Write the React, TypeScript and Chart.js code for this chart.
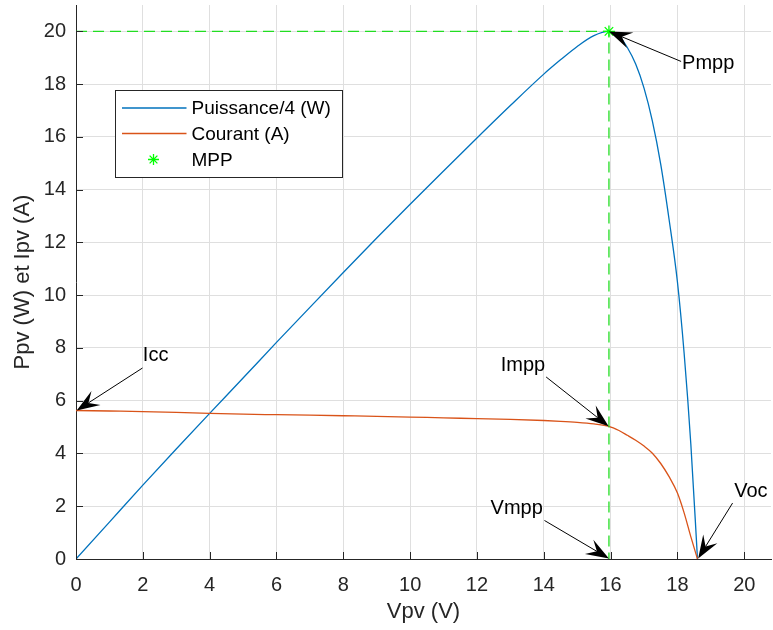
import React, { useEffect, useRef } from 'react';
import { Chart, registerables } from 'chart.js';

Chart.register(...registerables);

// ---- Data ----
const voltage = [0, 1, 2, 3, 4, 5, 6, 7, 8, 9, 10, 11, 12, 13, 14, 14.5, 15, 15.5, 15.95, 16.25, 16.5, 16.75, 17, 17.25, 17.5, 17.75, 18, 18.2, 18.4, 18.6];
const currentA = [5.63, 5.61, 5.59, 5.56, 5.52, 5.49, 5.47, 5.45, 5.43, 5.41, 5.38, 5.35, 5.32, 5.29, 5.25, 5.22, 5.18, 5.12, 5.03, 4.87, 4.69, 4.50, 4.28, 4.01, 3.62, 3.12, 2.50, 1.75, 0.85, 0];
const powerQuarter = [0, 1.40, 2.80, 4.17, 5.52, 6.86, 8.21, 9.54, 10.86, 12.17, 13.45, 14.71, 15.96, 17.19, 18.38, 18.92, 19.43, 19.84, 20.0, 19.83, 19.39, 18.76, 17.85, 16.6, 14.96, 12.87, 10.5, 7.8, 4.37, 0];

const mppVoltage = 15.95;
const mppPowerQuarter = 20;

const xTicks = [0, 2, 4, 6, 8, 10, 12, 14, 16, 18, 20];
const yTicks = [0, 2, 4, 6, 8, 10, 12, 14, 16, 18, 20];
const xMax = 20.8;
const yMax = 21;

const legendLabels = ['Puissance/4 (W)', 'Courant (A)', 'MPP'];

// annotation arrows: tip, tail, text anchor (data coordinates)
const annotations = [
  { label: 'Pmpp', tip: [15.95, 20], tail: [18.11, 18.86], text: [18.14, 18.8], align: 'left' },
  { label: 'Icc', tip: [0.02, 5.63], tail: [1.99, 7.24], text: [2.0, 7.71], align: 'left' },
  { label: 'Impp', tip: [15.94, 5.03], tail: [14.07, 6.9], text: [14.04, 7.33], align: 'right' },
  { label: 'Vmpp', tip: [15.95, 0.02], tail: [14.02, 1.46], text: [13.97, 1.93], align: 'right' },
  { label: 'Voc', tip: [18.62, 0.02], tail: [19.65, 2.12], text: [19.7, 2.56], align: 'left' },
];

const BLUE = '#0072BD';
const ORANGE = '#D95319';
const GREEN = '#00FF00';
const DASH_GREEN = '#22dd22';
const AXIS = '#262626';
const FONT = "'Liberation Sans', Arial, Helvetica, sans-serif";

function drawAsterisk(ctx: CanvasRenderingContext2D, cx: number, cy: number, r: number, color: string) {
  ctx.save();
  ctx.strokeStyle = color;
  ctx.lineWidth = 1.3;
  ctx.beginPath();
  for (let k = 0; k < 4; k++) {
    const a = (k * Math.PI) / 4;
    ctx.moveTo(cx - r * Math.cos(a), cy - r * Math.sin(a));
    ctx.lineTo(cx + r * Math.cos(a), cy + r * Math.sin(a));
  }
  ctx.stroke();
  ctx.restore();
}

const overlayPlugin = {
  id: 'overlay',
  afterDatasetsDraw(chart: any) {
    const { ctx, chartArea } = chart;
    const xs = chart.scales.x;
    const ys = chart.scales.y;
    ctx.save();

    // inward tick marks
    ctx.strokeStyle = AXIS;
    ctx.lineWidth = 1;
    xTicks.forEach((v) => {
      const px = Math.round(xs.getPixelForValue(v)) + 0.5;
      ctx.beginPath();
      ctx.moveTo(px, chartArea.bottom);
      ctx.lineTo(px, chartArea.bottom - 7);
      ctx.stroke();
    });
    yTicks.forEach((v) => {
      const py = Math.round(ys.getPixelForValue(v)) + 0.5;
      ctx.beginPath();
      ctx.moveTo(chartArea.left, py);
      ctx.lineTo(chartArea.left + 7, py);
      ctx.stroke();
    });

    // annotation arrows
    ctx.font = `20px ${FONT}`;
    ctx.fillStyle = '#000';
    ctx.strokeStyle = '#000';
    annotations.forEach((a) => {
      const tx = xs.getPixelForValue(a.tip[0]);
      const ty = ys.getPixelForValue(a.tip[1]);
      const sx = xs.getPixelForValue(a.tail[0]);
      const sy = ys.getPixelForValue(a.tail[1]);
      const ang = Math.atan2(ty - sy, tx - sx);
      const L = 23;
      const H = 8.3;
      const N = 14;
      const ux = Math.cos(ang);
      const uy = Math.sin(ang);
      const nx = tx - ux * N;
      const ny = ty - uy * N;
      ctx.lineWidth = 1;
      ctx.beginPath();
      ctx.moveTo(sx, sy);
      ctx.lineTo(nx, ny);
      ctx.stroke();
      ctx.beginPath();
      ctx.moveTo(tx, ty);
      ctx.lineTo(tx - ux * L - uy * H, ty - uy * L + ux * H);
      ctx.lineTo(nx, ny);
      ctx.lineTo(tx - ux * L + uy * H, ty - uy * L - ux * H);
      ctx.closePath();
      ctx.fill();

      ctx.textAlign = a.align as CanvasTextAlign;
      ctx.textBaseline = 'middle';
      ctx.fillText(a.label, xs.getPixelForValue(a.text[0]), ys.getPixelForValue(a.text[1]));
    });

    // legend box
    const lx = chartArea.left + 39.5;
    const ly = chartArea.top + 85.5;
    const lw = 227;
    const lh = 87;
    ctx.fillStyle = '#ffffff';
    ctx.fillRect(lx, ly, lw, lh);
    ctx.strokeStyle = AXIS;
    ctx.lineWidth = 1;
    ctx.strokeRect(lx, ly, lw, lh);
    const rows = [ly + 17.5, ly + 43, ly + 69];
    const colors = [BLUE, ORANGE];
    ctx.font = `19px ${FONT}`;
    ctx.textAlign = 'left';
    ctx.textBaseline = 'middle';
    legendLabels.forEach((lab, i) => {
      if (i < 2) {
        ctx.strokeStyle = colors[i];
        ctx.lineWidth = 1.3;
        ctx.beginPath();
        ctx.moveTo(lx + 6.5, rows[i]);
        ctx.lineTo(lx + 71, rows[i]);
        ctx.stroke();
      } else {
        drawAsterisk(ctx, lx + 38, rows[i], 5.5, GREEN);
      }
      ctx.fillStyle = '#000';
      ctx.fillText(lab, lx + 76, rows[i] + 1);
    });

    ctx.restore();
  },
};

export default function App() {
  const ref = useRef<HTMLCanvasElement | null>(null);

  useEffect(() => {
    if (!ref.current) return;
    const pts = (ys: number[]) => voltage.map((v, i) => ({ x: v, y: ys[i] }));
    const chart = new Chart(ref.current, {
      type: 'line',
      data: {
        datasets: [
          {
            label: 'MPP',
            data: [{ x: mppVoltage, y: mppPowerQuarter }],
            showLine: false,
            pointStyle: 'star',
            pointRadius: 6,
            pointHoverRadius: 6,
            pointBorderColor: GREEN,
            pointBackgroundColor: GREEN,
            pointBorderWidth: 1.3,
            borderColor: GREEN,
          },
          {
            label: 'guides',
            data: [
              { x: 0, y: mppPowerQuarter },
              { x: mppVoltage, y: mppPowerQuarter },
              { x: mppVoltage, y: 0 },
            ],
            borderColor: DASH_GREEN,
            borderWidth: 1.3,
            borderDash: [11, 6],
            pointRadius: 0,
            tension: 0,
            fill: false,
          },
          {
            label: legendLabels[1],
            data: pts(currentA),
            borderColor: ORANGE,
            borderWidth: 1.3,
            pointRadius: 0,
            cubicInterpolationMode: 'monotone',
            fill: false,
          },
          {
            label: legendLabels[0],
            data: pts(powerQuarter),
            borderColor: BLUE,
            borderWidth: 1.3,
            pointRadius: 0,
            cubicInterpolationMode: 'monotone',
            fill: false,
          },
        ],
      },
      options: {
        animation: false,
        responsive: false,
        devicePixelRatio: 1,
        events: [],
        layout: { autoPadding: false, padding: { left: 0, right: 2, top: 5, bottom: 0 } },
        plugins: {
          legend: { display: false },
          tooltip: { enabled: false },
        },
        scales: {
          x: {
            type: 'linear',
            min: 0,
            max: xMax,
            afterBuildTicks: (s: any) => {
              s.ticks = xTicks.map((v) => ({ value: v }));
            },
            afterFit: (s: any) => {
              s.height = 71;
              s.paddingLeft = 0;
              s.paddingRight = 0;
              s.paddingTop = 0;
              s.paddingBottom = 0;
            },
            grid: { color: '#dfdfdf', lineWidth: 1, drawTicks: false },
            border: { display: true, color: AXIS, width: 1 },
            ticks: {
              color: AXIS,
              font: { family: FONT, size: 20 },
              padding: 14,
              maxRotation: 0,
              autoSkip: false,
            },
            title: {
              display: true,
              text: 'Vpv (V)',
              color: AXIS,
              font: { family: FONT, size: 22 },
              padding: { top: 0, bottom: 5 },
            },
          },
          y: {
            type: 'linear',
            min: 0,
            max: yMax,
            afterBuildTicks: (s: any) => {
              s.ticks = yTicks.map((v) => ({ value: v }));
            },
            afterFit: (s: any) => {
              s.width = 76;
              s.paddingLeft = 0;
              s.paddingRight = 0;
              s.paddingTop = 0;
              s.paddingBottom = 0;
            },
            grid: { color: '#dfdfdf', lineWidth: 1, drawTicks: false },
            border: { display: true, color: AXIS, width: 1 },
            ticks: {
              color: AXIS,
              font: { family: FONT, size: 20 },
              padding: 10,
              autoSkip: false,
            },
            title: {
              display: true,
              text: 'Ppv (W) et Ipv (A)',
              color: AXIS,
              font: { family: FONT, size: 22 },
              padding: { top: 10, bottom: 0 },
            },
          },
        },
      },
      plugins: [overlayPlugin],
    });
    return () => chart.destroy();
  }, []);

  return (
    <div style={{ position: 'absolute', left: 0, top: 0, width: 773, height: 630, background: '#fff' }}>
      <canvas ref={ref} width={773} height={630} style={{ width: 773, height: 630, display: 'block' }} />
    </div>
  );
}
